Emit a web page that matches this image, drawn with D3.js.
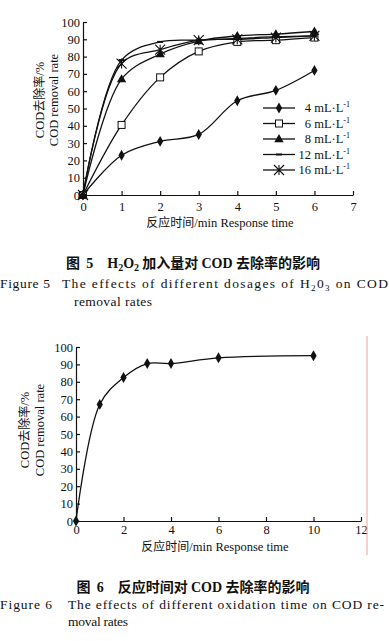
<!DOCTYPE html>
<html>
<head>
<meta charset="utf-8">
<script src="https://cdn.jsdelivr.net/npm/d3@7"></script>
<style>
  body { margin: 0; background: #fff; }
  svg { display: block; }
  text { fill: #111; white-space: pre; }
</style>
</head>
<body>
<div id="chart"></div>
<script>
// figure 5: H2O2 dosage series
const times5 = [0, 1, 2, 3, 4, 5, 6];
const series5 = [
    { name: '4', marker: 'diamond', values: [0, 23, 31, 35, 54.5, 60.5, 72] },
    { name: '6', marker: 'square', values: [0, 40.5, 68, 83, 88.5, 89.5, 91] },
    { name: '8', marker: 'triangle', values: [0, 67, 81.5, 89, 92, 93, 94.5] },
    { name: '12', marker: 'dash', values: [0, 78, 88.5, 89.5, 90.5, 91.5, 92] },
    { name: '16', marker: 'star', values: [0, 76, 84, 89.5, 90, 91, 92] }
];
const xTicks5 = [0, 1, 2, 3, 4, 5, 6, 7];
const yTicks = [0, 10, 20, 30, 40, 50, 60, 70, 80, 90, 100];

// figure 6: reaction time
const times6 = [0, 1, 2, 3, 4, 6, 10];
const values6 = [0, 67, 82.5, 90.5, 90.5, 93.8, 95];
const xTicks6 = [0, 2, 4, 6, 8, 10, 12];

const width = 389;
const height = 641;
const serif = '"Liberation Serif", "Times New Roman", serif';
const cjk = '"Noto Sans CJK SC", sans-serif';
const capFont = '"Liberation Serif", serif';

const svg = d3.select('#chart')
    .append('svg')
    .attr('width', width)
    .attr('height', height);

function drawMarker(g, type, x, y) {
    if (type === 'diamond') {
        g.append('path').attr('d', d3.symbol(d3.symbolDiamond, 34)())
            .attr('transform', 'translate(' + x + ',' + y + ')').attr('fill', '#111');
    } else if (type === 'square') {
        g.append('rect').attr('x', x - 3.5).attr('y', y - 3.5).attr('width', 7).attr('height', 7)
            .attr('fill', '#fff').attr('stroke', '#111').attr('stroke-width', 1);
    } else if (type === 'triangle') {
        g.append('path').attr('d', d3.symbol(d3.symbolTriangle, 38)())
            .attr('transform', 'translate(' + x + ',' + (y + 0.5) + ')').attr('fill', '#111');
    } else if (type === 'dash') {
        g.append('line').attr('x1', x - 3).attr('x2', x + 3).attr('y1', y).attr('y2', y)
            .attr('stroke', '#111').attr('stroke-width', 2);
    } else if (type === 'star') {
        const r = 5;
        g.append('path')
            .attr('d', 'M' + (x - r) + ',' + (y - r) + 'L' + (x + r) + ',' + (y + r) +
                'M' + (x - r) + ',' + (y + r) + 'L' + (x + r) + ',' + (y - r) +
                'M' + x + ',' + (y - r) + 'L' + x + ',' + (y + r))
            .attr('stroke', '#111').attr('stroke-width', 1.1).attr('fill', 'none');
    }
}

// spread a caption line (list of segments) over a target width with letter spacing
function fitLine(x, y, target, segs) {
    const nodes = segs.map(s => svg.append('text')
        .attr('y', y + (s.dy || 0))
        .attr('font-family', capFont)
        .attr('font-size', s.size || 13.5)
        .text(s.text));
    const widths = nodes.map(n => n.node().getComputedTextLength());
    const chars = d3.sum(segs, s => s.text.length);
    const extra = (target - d3.sum(widths)) / Math.max(1, chars - 1);
    let cx = x;
    nodes.forEach((n, i) => {
        n.attr('x', cx).attr('letter-spacing', extra);
        cx += widths[i] + extra * segs[i].text.length;
    });
}

function drawAxes(g, xScale, yScale, xTicks, xPad, xLabelY, yLabelXs, yLabelY, xLabelX) {
    const xAxis = d3.axisBottom(xScale).tickValues(xTicks).tickFormat(d3.format('d'))
        .tickSizeInner(-4).tickSizeOuter(0).tickPadding(xPad);
    const yAxis = d3.axisLeft(yScale).tickValues(yTicks).tickFormat(d3.format('d'))
        .tickSizeInner(-4).tickSizeOuter(0).tickPadding(3);

    const gx = g.append('g')
        .attr('transform', 'translate(0,' + yScale(0) + ')')
        .call(xAxis);
    const gy = g.append('g')
        .attr('transform', 'translate(' + xScale(0) + ',0)')
        .call(yAxis);

    [gx, gy].forEach(a => {
        a.selectAll('path, line').attr('stroke', '#111').attr('stroke-width', 1.2);
        a.selectAll('text').attr('font-family', serif).attr('font-size', 12.5).attr('fill', '#111');
    });

    g.append('text')
        .attr('x', xLabelX).attr('y', xLabelY)
        .attr('text-anchor', 'middle')
        .attr('font-size', 12.5)
        .call(t => {
            t.append('tspan').attr('font-family', cjk).attr('font-size', 12).text('反应时间');
            t.append('tspan').attr('font-family', serif).text('/min Response time');
        });

    const lines = [['COD', '去除率', '/%'], ['COD removal rate']];
    lines.forEach((parts, i) => {
        const t = g.append('text')
            .attr('transform', 'translate(' + yLabelXs[i] + ',' + yLabelY + ') rotate(-90)')
            .attr('text-anchor', 'middle')
            .attr('font-size', 12.5);
        parts.forEach(p => {
            const isCjk = /[\u4e00-\u9fff]/.test(p);
            t.append('tspan')
                .attr('font-family', isCjk ? cjk : serif)
                .attr('font-size', isCjk ? 12 : 12.5)
                .text(p);
        });
    });
}

// ---------- figure 5 ----------
const x5 = d3.scaleLinear().domain([0, 7]).range([83, 353]);
const y5 = d3.scaleLinear().domain([0, 100]).range([195, 22]);
const g5 = svg.append('g');

drawAxes(g5, x5, y5, xTicks5, 7, 227, [44, 58], 100, 220);

const line5 = d3.line()
    .x(d => x5(d[0]))
    .y(d => y5(d[1]))
    .curve(d3.curveCatmullRom.alpha(0.5));

series5.forEach(s => {
    const pts = times5.map((t, i) => [t, s.values[i]]);
    g5.append('path')
        .attr('d', line5(pts))
        .attr('fill', 'none')
        .attr('stroke', '#111')
        .attr('stroke-width', 1.3);
    pts.forEach(p => drawMarker(g5, s.marker, x5(p[0]), y5(p[1])));
});

// legend
const legend = g5.append('g');
series5.forEach((s, i) => {
    const ly = 108 + i * 15.5;
    legend.append('line').attr('x1', 263).attr('x2', 295).attr('y1', ly).attr('y2', ly)
        .attr('stroke', '#111').attr('stroke-width', 1.3);
    drawMarker(legend, s.marker, 279, ly);
    const t = legend.append('text')
        .attr('x', 350).attr('y', ly + 4)
        .attr('text-anchor', 'end')
        .attr('font-family', serif).attr('font-size', 12.5);
    t.append('tspan').text(s.name + ' mL·L');
    t.append('tspan').attr('font-size', 8).attr('dy', -5).text('-1');
});

// caption 5
const cap5 = svg.append('text')
    .attr('x', 193).attr('y', 268)
    .attr('text-anchor', 'middle')
    .attr('font-weight', 'bold')
    .attr('font-size', 14);
cap5.append('tspan').attr('font-family', cjk).text('图  ');
cap5.append('tspan').attr('font-family', serif).text('5    H');
cap5.append('tspan').attr('font-family', serif).attr('font-size', 10).attr('dy', 3).text('2');
cap5.append('tspan').attr('font-family', serif).attr('dy', -3).text('O');
cap5.append('tspan').attr('font-family', serif).attr('font-size', 10).attr('dy', 3).text('2');
cap5.append('tspan').attr('font-family', cjk).attr('dy', -3).text(' 加入量对 ');
cap5.append('tspan').attr('font-family', serif).text('COD ');
cap5.append('tspan').attr('font-family', cjk).text('去除率的影响');

fitLine(0, 288, 50, [{ text: 'Figure 5' }]);
fitLine(62, 288, 326, [
    { text: 'The effects of different dosages of H' },
    { text: '2', size: 9, dy: 3 },
    { text: '0' },
    { text: '3', size: 9, dy: 3 },
    { text: ' on COD' }
]);
fitLine(74, 306, 78, [{ text: 'removal rates' }]);

// ---------- figure 6 ----------
const x6 = d3.scaleLinear().domain([0, 12]).range([76, 361]);
const y6 = d3.scaleLinear().domain([0, 100]).range([521, 347]);
const g6 = svg.append('g');

drawAxes(g6, x6, y6, xTicks6, 4, 551, [29, 44], 430, 215);

const pts6 = times6.map((t, i) => [t, values6[i]]);
g6.append('path')
    .attr('d', d3.line().x(d => x6(d[0])).y(d => y6(d[1])).curve(d3.curveCatmullRom.alpha(0.5))(pts6))
    .attr('fill', 'none')
    .attr('stroke', '#111')
    .attr('stroke-width', 1.3);
pts6.forEach(p => drawMarker(g6, 'diamond', x6(p[0]), y6(p[1])));

// thin red margin line
svg.append('line')
    .attr('x1', 367).attr('x2', 367).attr('y1', 336).attr('y2', 555)
    .attr('stroke', '#f2a0a0').attr('stroke-width', 1);

// caption 6
const cap6 = svg.append('text')
    .attr('x', 193).attr('y', 592)
    .attr('text-anchor', 'middle')
    .attr('font-weight', 'bold')
    .attr('font-size', 14);
cap6.append('tspan').attr('font-family', cjk).text('图  ');
cap6.append('tspan').attr('font-family', serif).text('6    ');
cap6.append('tspan').attr('font-family', cjk).text('反应时间对 ');
cap6.append('tspan').attr('font-family', serif).text('COD ');
cap6.append('tspan').attr('font-family', cjk).text('去除率的影响');

fitLine(0, 609, 52, [{ text: 'Figure 6' }]);
fitLine(68, 609, 316, [{ text: 'The effects of different oxidation time on COD re-' }]);
fitLine(68, 626, 60, [{ text: 'moval rates' }]);
</script>
</body>
</html>
